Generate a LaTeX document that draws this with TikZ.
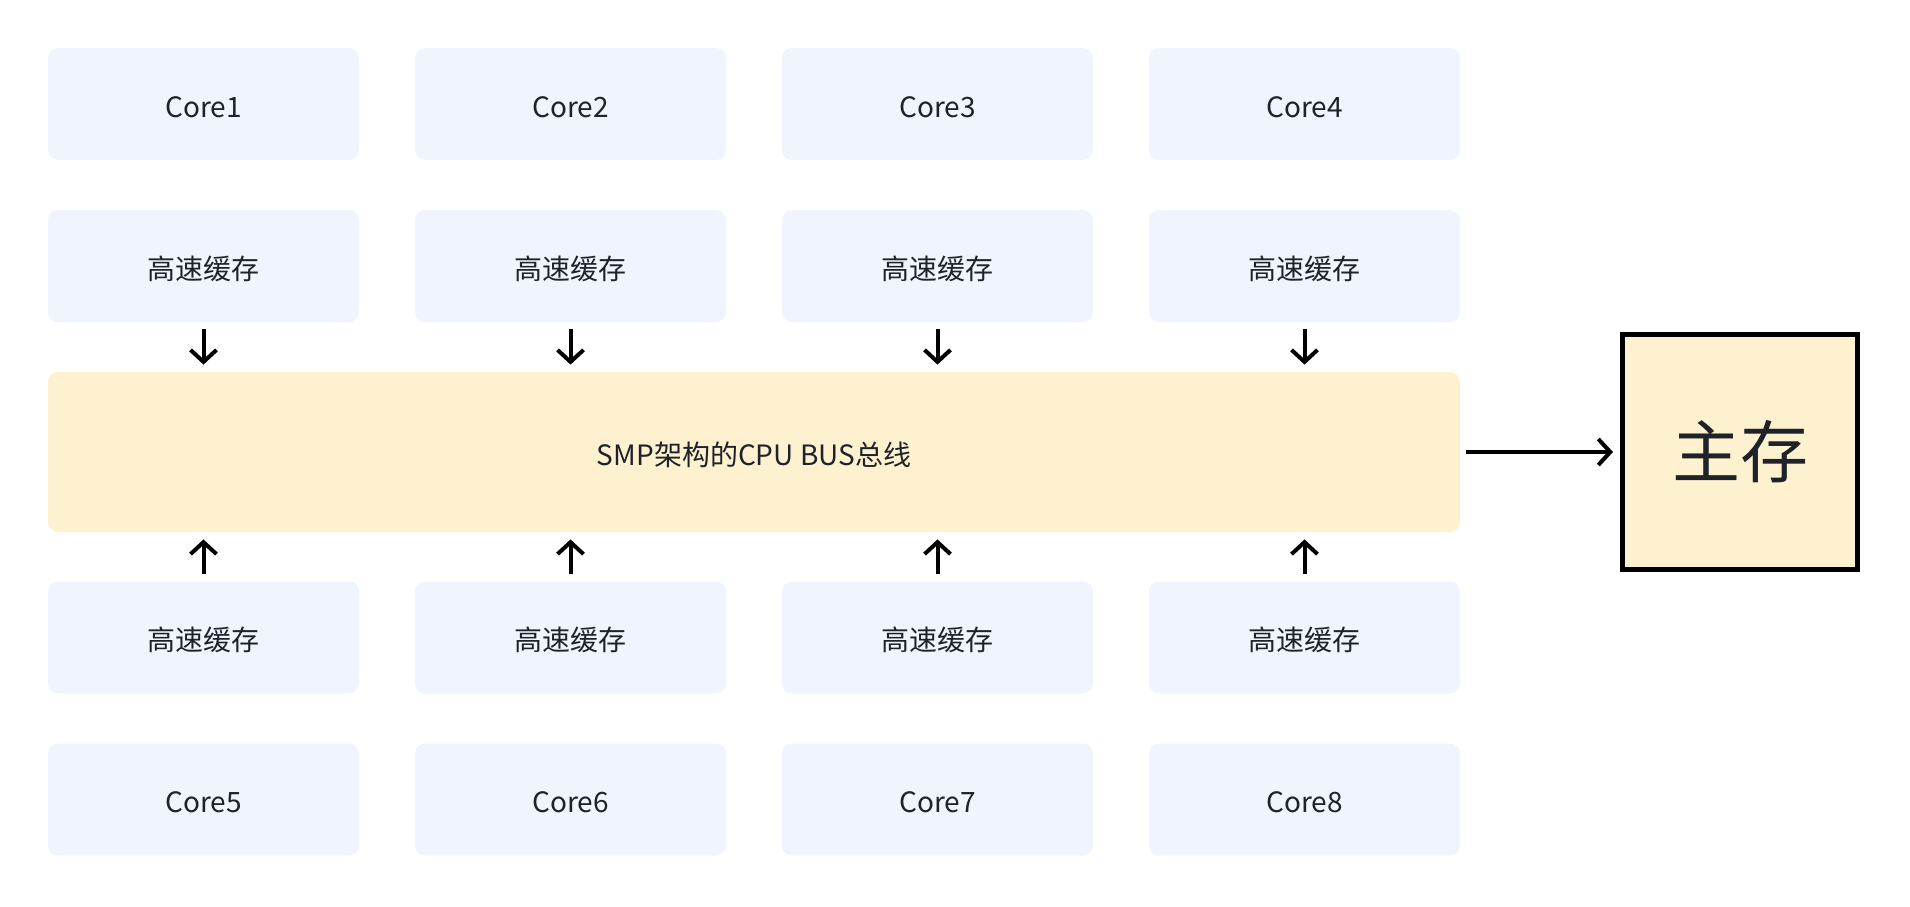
\documentclass[tikz,border=0pt]{standalone}
\usepackage{fontspec}
\setmainfont{Noto Sans CJK SC}
\usetikzlibrary{arrows.meta}
\definecolor{cellblue}{HTML}{EFF4FD}
\definecolor{busyellow}{HTML}{FEF1CF}
\definecolor{inkgray}{HTML}{1F2329}
\begin{document}
\begin{tikzpicture}[x=0.5pt, y=-0.5pt, >={Straight Barb[length=6pt,width=13pt]},
    cell/.style={fill=cellblue, rounded corners=5pt, minimum width=155.5pt, minimum height=56pt,
      inner sep=0pt, text=inkgray, text height=14pt, text depth=1pt,
      font=\fontsize{14pt}{17pt}\selectfont},
    busbar/.style={cell, fill=busyellow, minimum width=706pt, minimum height=80pt},
    membox/.style={draw=black, line width=2.5pt, fill=busyellow, minimum width=117.5pt, minimum height=117.5pt,
      inner sep=0pt, text=inkgray, font=\fontsize{34pt}{40pt}\selectfont},
    link/.style={->, line width=2pt, shorten <=3.5pt, shorten >=3.5pt}]
  \useasboundingbox (0,0) rectangle (1910,906);
  % 1. 总线与主存
  \node[busbar] (bus) at (754,452) {SMP架构的CPU BUS总线};
  \node[membox] (mem) at (1740,452) {主存};
  \draw[link, shorten <=3pt] (bus.east) -- (mem.west);
  % 2. 上下两组核心与高速缓存
  \foreach \i/\x in {1/203.5, 2/570.5, 3/937.5, 4/1304.5} {
    \pgfmathtruncatemacro{\j}{\i+4}
    \node[cell] (coreT\i) at (\x,104) {Core\i};
    \node[cell] (cacheT\i) at (\x,266) {高速缓存};
    \node[cell] (cacheB\i) at (\x,637.5) {高速缓存};
    \node[cell] (coreB\i) at (\x,799.5) {Core\j};
    \draw[link] (cacheT\i.south) -- (cacheT\i.south |- bus.north);
    \draw[link] (cacheB\i.north) -- (cacheB\i.north |- bus.south);
  }
\end{tikzpicture}
\end{document}
